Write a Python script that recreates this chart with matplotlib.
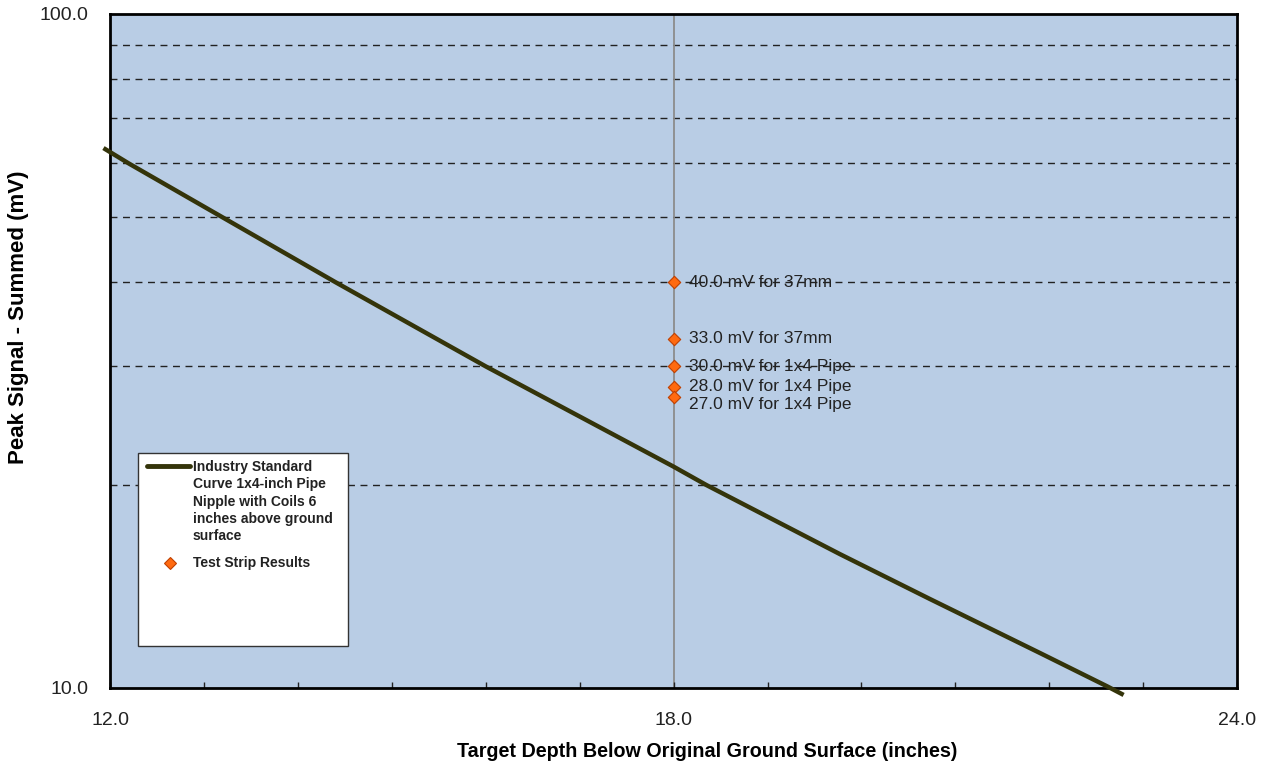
import matplotlib.pyplot as plt
from matplotlib.patches import Rectangle
from matplotlib.lines import Line2D
from matplotlib.ticker import FixedLocator, NullFormatter, FormatStrFormatter

plt.rcParams['font.family'] = ['Liberation Sans', 'DejaVu Sans']

# industry standard curve
curve_depth = [11.95, 12.2, 14.4, 16.0, 18.0, 18.35, 19.77, 20.73, 21.9, 22.62, 22.77]
curve_signal = [63.0, 60.0, 40.0, 30.0, 21.3, 20.0, 15.8, 13.55, 11.27, 10.05, 9.8]

# test strip results
test_depth = [18.0, 18.0, 18.0, 18.0, 18.0]
test_signal = [40.0, 33.0, 30.0, 28.0, 27.0]
test_labels = ["40.0 mV for 37mm", "33.0 mV for 37mm", "30.0 mV for 1x4 Pipe",
               "28.0 mV for 1x4 Pipe", "27.0 mV for 1x4 Pipe"]
label_dy = [0, 0, 0, 0, -5]

grid_levels = [20, 30, 40, 50, 60, 70, 80, 90]

curve_name = "Industry Standard\nCurve 1x4-inch Pipe\nNipple with Coils 6\ninches above ground\nsurface"
test_name = "Test Strip Results"

line_col = '#34340a'
dot_col = '#ff6a10'
dot_edge = '#c04000'

fig = plt.figure(figsize=(12.65, 7.63), dpi=100)
ax = fig.add_axes([0.087, 0.0983, 0.891, 0.8834])
ax.set_facecolor('#b9cde5')

ax.set_yscale('log')
ax.set_xlim(12, 24)
ax.set_ylim(10, 100)

for g in grid_levels:
    ax.axhline(g, color='#222222', lw=1, ls=(0, (5, 4)), zorder=1)
ax.axvline(18, color='#8c8c8c', lw=1.3, zorder=1)

ax.plot(curve_depth, curve_signal, color=line_col, lw=3.2, clip_on=False, zorder=4,
        solid_joinstyle='round')
ax.scatter(test_depth, test_signal, marker='D', s=40, color=dot_col, edgecolor=dot_edge,
           linewidth=0.8, zorder=5)

for x, y, t, dy in zip(test_depth, test_signal, test_labels, label_dy):
    ax.annotate(t, (x, y), xytext=(11, dy), textcoords='offset points',
                fontsize=12.5, color='#222222', va='center', ha='left', zorder=6)

ax.xaxis.set_major_locator(FixedLocator([12, 18, 24]))
ax.xaxis.set_minor_locator(FixedLocator([13, 14, 15, 16, 17, 19, 20, 21, 22, 23]))
ax.xaxis.set_major_formatter(FormatStrFormatter('%.1f'))
ax.yaxis.set_major_locator(FixedLocator([10, 100]))
ax.yaxis.set_minor_locator(FixedLocator([]))
ax.yaxis.set_minor_formatter(NullFormatter())
ax.yaxis.set_major_formatter(FormatStrFormatter('%.1f'))
ax.tick_params(axis='x', which='both', direction='in', length=4, width=1, pad=17,
               labelsize=14, colors='#222222')
ax.tick_params(axis='y', which='both', length=0, pad=15.5, labelsize=14, colors='#222222')

for s in ax.spines.values():
    s.set_linewidth(2)
    s.set_color('black')

ax.set_xlabel("Target Depth Below Original Ground Surface (inches)", fontsize=14.2,
              fontweight='bold')
ax.xaxis.set_label_coords(0.53, -0.08)
ax.set_ylabel("Peak Signal - Summed (mV)", fontsize=16, fontweight='bold')
ax.yaxis.set_label_coords(-0.072, 0.55)

# legend box drawn by hand so the line sits beside the first text row
tr = ax.transAxes
ax.add_patch(Rectangle((0.025, 0.062), 0.186, 0.287, transform=tr, facecolor='white',
                       edgecolor='#333333', lw=1, zorder=7))
ax.add_line(Line2D([0.0328, 0.071], [0.3294, 0.3294], transform=tr, color=line_col,
                   lw=3.5, solid_capstyle='round', zorder=8))
ax.text(0.0736, 0.3385, curve_name, transform=tr, fontsize=10, fontweight='bold',
        color='#222222', va='top', ha='left', linespacing=1.31, zorder=8)
ax.add_line(Line2D([0.0532], [0.1855], transform=tr, marker='D', markersize=6,
                   color=dot_col, markeredgecolor=dot_edge, markeredgewidth=0.8,
                   ls='none', zorder=8))
ax.text(0.0736, 0.1855, test_name, transform=tr, fontsize=10, fontweight='bold',
        color='#222222', va='center', ha='left', zorder=8)

fig.savefig('out.png', dpi=100)
